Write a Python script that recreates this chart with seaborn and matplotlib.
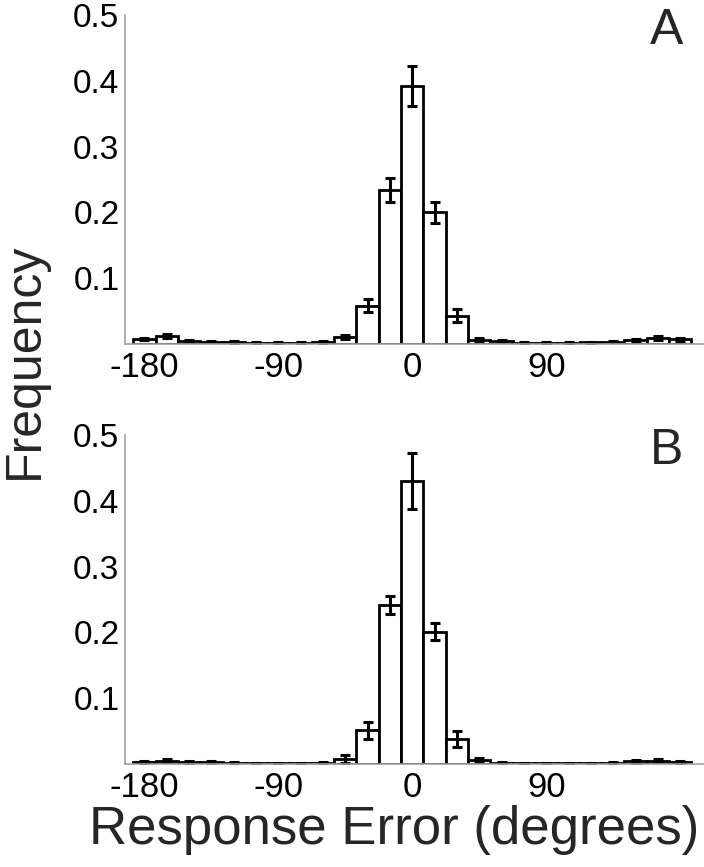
import numpy as np
import pandas as pd
import seaborn as sns
import matplotlib
matplotlib.use("Agg")
import matplotlib.pyplot as plt

# bin centres (degrees) of the response error histogram
bin_centers = [-180, -165, -150, -135, -120, -105, -90, -75, -60, -45, -30, -15, 0,
               15, 30, 45, 60, 75, 90, 105, 120, 135, 150, 165, 180]

# panel A: mean frequency and error
freq_a = [0.0076, 0.0125, 0.005, 0.0035, 0.003, 0.002, 0.0015, 0.002, 0.003, 0.011,
          0.058, 0.234, 0.392, 0.200, 0.043, 0.0066, 0.004, 0.002, 0.002, 0.002,
          0.0025, 0.0035, 0.006, 0.0086, 0.007]
err_a = [0.002, 0.003, 0.0015, 0.001, 0.001, 0.001, 0.001, 0.001, 0.001, 0.003,
         0.010, 0.018, 0.031, 0.0165, 0.010, 0.002, 0.0015, 0.001, 0.001, 0.001,
         0.001, 0.001, 0.002, 0.003, 0.002]

# panel B
freq_b = [0.0035, 0.005, 0.003, 0.003, 0.0015, 0.001, 0.001, 0.001, 0.002, 0.0076,
          0.051, 0.2416, 0.430, 0.201, 0.038, 0.006, 0.0015, 0.001, 0.001, 0.001,
          0.001, 0.0015, 0.004, 0.005, 0.0035]
err_b = [0.0015, 0.002, 0.001, 0.001, 0.001, 0.001, 0.001, 0.001, 0.001, 0.006,
         0.013, 0.013, 0.042, 0.013, 0.012, 0.003, 0.001, 0.001, 0.001, 0.001,
         0.001, 0.001, 0.002, 0.002, 0.0015]

panel_letters = ["A", "B"]
x_ticks = [-180, -90, 0, 90]
y_ticks = [0.1, 0.2, 0.3, 0.4, 0.5]

sns.set_theme(style="white")
plt.rcParams['font.family'] = ['Liberation Sans', 'DejaVu Sans']

fig = plt.figure(figsize=(7.04, 8.67), dpi=100)
ax_a = fig.add_axes([0.1776, 0.6032, 0.8224, 0.3795])
ax_b = fig.add_axes([0.1776, 0.1188, 0.8224, 0.3795])

grey = "#a0a0a0"
for ax, freq, err, letter in zip([ax_a, ax_b], [freq_a, freq_b], [err_a, err_b], panel_letters):
    df = pd.DataFrame({"error": bin_centers, "freq": freq, "sem": err})
    sns.barplot(data=df, x="error", y="freq", native_scale=True, width=1.0,
                color="white", edgecolor="black", linewidth=2.0, saturation=1,
                errorbar=None, ax=ax)
    ax.errorbar(df["error"], df["freq"], yerr=df["sem"], fmt="none",
                ecolor="black", elinewidth=2.2, capsize=3.5, capthick=2.2)

    ax.set_xlim(-193, 196)
    ax.set_ylim(0, 0.5)
    ax.set_xticks(x_ticks)
    ax.set_xticklabels([str(t) for t in x_ticks], fontsize=25)
    ax.set_yticks(y_ticks)
    ax.set_yticklabels([f"{t:.1f}" for t in y_ticks], fontsize=24)
    ax.tick_params(axis="both", direction="in", length=4, width=1, color=grey,
                   pad=4, labelcolor="black")
    ax.tick_params(axis="x", pad=5)
    ax.set_xlabel("")
    ax.set_ylabel("")
    for side in ["top", "right"]:
        ax.spines[side].set_visible(False)
    for side in ["left", "bottom"]:
        ax.spines[side].set_color(grey)
        ax.spines[side].set_linewidth(1.2)
    ax.text(0.935, 0.95, letter, transform=ax.transAxes, fontsize=36,
            ha="center", va="center")

fig.text(394 / 704, 1 - 830 / 867, "Response Error (degrees)", fontsize=38,
         ha="center", va="center")
fig.text(25 / 704, 1 - 361 / 867, "Frequency", fontsize=36, rotation=90,
         ha="center", va="center")

plt.savefig("out.png", dpi=100)
